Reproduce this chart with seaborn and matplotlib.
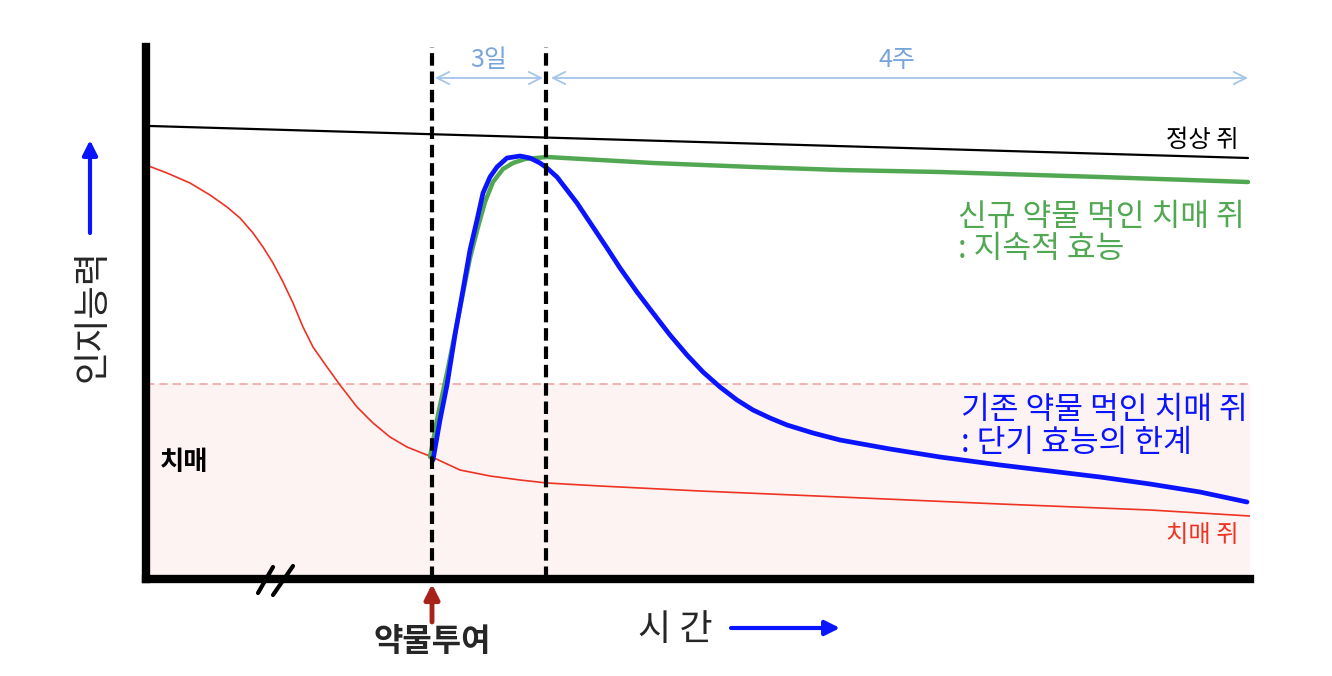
import pandas as pd
import matplotlib.pyplot as plt
import seaborn as sns

# time axis: 0 = y-axis, 1104 = right end; cognition: 0 = x-axis
red_t = [0, 21, 44, 64, 81, 94, 107, 117, 127, 137, 147, 157, 167, 181, 194, 211, 227, 244, 261, 286,
         314, 344, 374, 401, 454, 554, 694, 854, 1004, 1104]
red_c = [414, 406, 396, 384, 372, 361, 346, 332, 316, 297, 276, 252, 232, 212, 194, 172, 156, 142, 132, 122,
         109, 103, 99, 96, 93, 88, 82, 75, 69, 63]

blue_t = [287, 294, 301, 309, 317, 324, 331, 337, 344, 351, 361, 374, 384, 394, 401, 411, 421, 431, 441,
          451, 461, 474, 491, 507, 524, 541, 557, 574, 591, 607, 624, 641, 667, 694, 744, 794, 854, 904,
          954, 1004, 1054, 1101]
blue_c = [119, 159, 194, 244, 289, 329, 359, 386, 402, 412, 421, 423, 421, 416, 411, 402, 389, 376, 361,
          346, 331, 311, 287, 266, 244, 224, 207, 192, 179, 169, 161, 154, 146, 139, 130, 122, 114, 108,
          102, 95, 87, 77]

green_t = [284, 292, 301, 309, 317, 324, 332, 339, 347, 357, 367, 379, 401, 454, 507, 607, 694, 794, 954, 1102]
green_c = [122, 164, 206, 246, 286, 321, 352, 377, 397, 410, 416, 420, 422, 419, 416, 412, 409, 407, 402, 397]

normal_t = [4, 1102]
normal_c = [453, 421]

dose_t = 286        # drug given
peak_t = 400        # 3 days later
end_t = 1102        # 4 weeks
dementia_level = 195

BLUE = "#0a14ff"
GREEN = "#52a852"
RED = "#ee3322"

sns.set_theme(style="white")
plt.rcParams['font.family'] = ['Noto Sans CJK KR', 'DejaVu Sans']

fig = plt.figure(figsize=(13.32, 6.76), dpi=100)
ax = fig.add_axes([146 / 1332, 97 / 676, 1104 / 1332, 532 / 676])
ax.set_xlim(0, 1104)
ax.set_ylim(0, 532)
ax.set_xticks([])
ax.set_yticks([])
for side in ["top", "right"]:
    ax.spines[side].set_visible(False)
for side in ["left", "bottom"]:
    ax.spines[side].set_linewidth(6)
    ax.spines[side].set_color("black")
    ax.spines[side].set_zorder(10)

# dementia zone
ax.axhspan(0, dementia_level, color="#fdf3f3", zorder=0)
ax.axhline(dementia_level, color="#f2a5a5", lw=1.2, ls=(0, (5, 3)), zorder=1)

curves = {
    "normal": (normal_t, normal_c, "black", 1.6),
    "dementia": (red_t, red_c, RED, 1.2),
    "new": (green_t, green_c, GREEN, 3.2),
    "old": (blue_t, blue_c, BLUE, 3.4),
}
for name, (t, c, col, lw) in curves.items():
    df = pd.DataFrame({"t": t, "c": c})
    sns.lineplot(data=df, x="t", y="c", color=col, lw=lw, estimator=None, sort=False, ax=ax, zorder=3)
ax.set_xlabel("")
ax.set_ylabel("")

for xv in [dose_t, peak_t]:
    ax.axvline(xv, color="black", lw=3, ls=(0, (3, 1.4)), zorder=4)

# duration arrows
arrow_kw = dict(arrowstyle="<->", color="#a5c5ea", lw=1.3, mutation_scale=22, shrinkA=0, shrinkB=0)
ax.annotate("", xy=(dose_t + 3, 501), xytext=(peak_t - 3, 501), arrowprops=arrow_kw, annotation_clip=False)
ax.annotate("", xy=(peak_t + 5, 501), xytext=(end_t, 501), arrowprops=arrow_kw, annotation_clip=False)
ax.text((dose_t + peak_t) / 2, 519, "3일", color="#78a4dc", fontsize=18, ha="center", va="center")
ax.text(751, 519, "4주", color="#78a4dc", fontsize=18, ha="center", va="center")

# labels
ax.text(1056, 439, "정상 쥐", fontsize=17.5, ha="center", va="center", color="black")
ax.text(1056, 44, "치매 쥐", fontsize=17.5, ha="center", va="center", color=RED)
ax.text(812, 362, "신규 약물 먹인 치매 쥐", fontsize=22.5, ha="left", va="center", color=GREEN)
ax.text(812, 330, ": 지속적 효능", fontsize=22.5, ha="left", va="center", color=GREEN)
ax.text(815, 169, "기존 약물 먹인 치매 쥐", fontsize=22.5, ha="left", va="center", color=BLUE)
ax.text(815, 136, ": 단기 효능의 한계", fontsize=22.5, ha="left", va="center", color=BLUE)
ax.text(14, 116, "치매", fontsize=19, fontweight="bold", ha="left", va="center", color="black")

# axis break mark
ax.plot([112, 127], [-14, 12], color="black", lw=3, clip_on=False, zorder=11)
ax.plot([127, 147], [-16, 13], color="black", lw=3, clip_on=False, zorder=11)

# outside annotations (figure pixels)
ax.annotate("", xy=(90, 536), xytext=(90, 443), xycoords="figure pixels",
            arrowprops=dict(arrowstyle="-|>", color=BLUE, lw=3, mutation_scale=22, shrinkA=0, shrinkB=0))
fig.text(92 / 1332, 360 / 676, "인지능력", rotation=90, fontsize=26, ha="center", va="center")

ax.annotate("", xy=(840, 48), xytext=(731, 48), xycoords="figure pixels",
            arrowprops=dict(arrowstyle="-|>", color=BLUE, lw=3, mutation_scale=22, shrinkA=0, shrinkB=0))
fig.text(675 / 1332, 46 / 676, "시 간", fontsize=26, ha="center", va="center")

ax.annotate("", xy=(432, 92), xytext=(432, 54), xycoords="figure pixels",
            arrowprops=dict(arrowstyle="-|>", color="#a8221c", lw=3.5, mutation_scale=22, shrinkA=0, shrinkB=0))
fig.text(432 / 1332, 34 / 676, "약물투여", fontsize=23, fontweight="bold", ha="center", va="center")

fig.savefig("out.png", dpi=100)
plt.close(fig)
